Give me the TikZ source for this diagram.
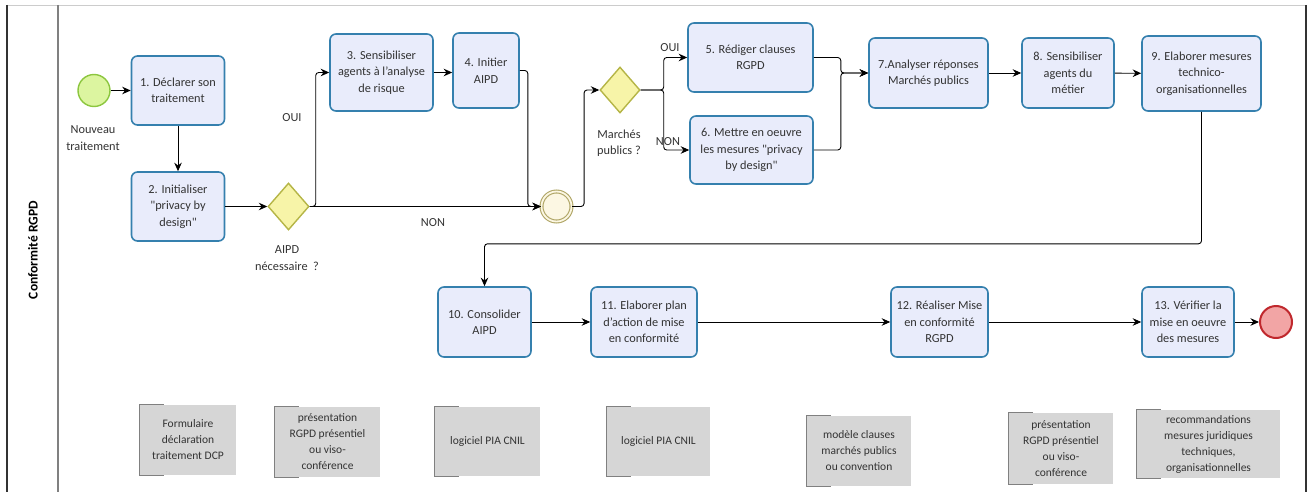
\documentclass[tikz,border=0pt]{standalone}
\usepackage{fontspec}
\setmainfont{Carlito}
\usetikzlibrary{arrows.meta,shapes.geometric}
\definecolor{taskfill}{HTML}{E9ECFB}
\definecolor{taskline}{HTML}{3580AE}
\definecolor{gatefill}{HTML}{F7F4A8}
\definecolor{gateline}{HTML}{B5B546}
\definecolor{startfill}{HTML}{DCF5A0}
\definecolor{startline}{HTML}{8CC63F}
\definecolor{endfill}{HTML}{F2A5A5}
\definecolor{endline}{HTML}{C0282D}
\definecolor{evfill}{HTML}{FCF7E3}
\definecolor{evline}{HTML}{B0A667}
\definecolor{notefill}{HTML}{D6D6D6}
\definecolor{inkgray}{HTML}{333333}

\begin{document}
\begin{tikzpicture}[x=1pt,y=-1pt,
  every node/.style={font=\fontsize{12.3}{16.5}\selectfont, text=inkgray, align=center},
  task/.style={draw=taskline, fill=taskfill, line width=1.6pt, rounded corners=6pt, inner sep=2pt},
  gate/.style={diamond, draw=gateline, fill=gatefill, line width=1.4pt, inner sep=0pt},
  startev/.style={circle, draw=startline, fill=startfill, line width=1.4pt, minimum size=32pt, inner sep=0pt},
  endev/.style={circle, draw=endline, fill=endfill, line width=2pt, minimum size=32pt, inner sep=0pt},
  midev/.style={circle, draw=evline, fill=evfill, line width=1.1pt, double=evfill, double distance=1.8pt, minimum size=30pt, inner sep=0pt},
  note/.style={fill=notefill, inner sep=1pt, font=\fontsize{11.5}{16}\selectfont},
  bracket/.style={draw=gray, line width=0.9pt},
  flow/.style={draw=black, line width=0.9pt, rounded corners=3pt, -{Stealth[length=8.5pt,width=7.5pt]}}]
\useasboundingbox (0,0) rectangle (1314,492);
\draw[gray!40, line width=0.8pt] (7,5) -- (1306,5);
\draw[inkgray, line width=1.2pt] (7,5) -- (7,492);
\draw[gray, line width=1.8pt] (58,5) -- (58,492);
\draw[inkgray, line width=1.2pt] (1306,5) -- (1306,492);
\node[rotate=90, font=\bfseries\fontsize{13.5}{15}\selectfont, text=black] (lane) at (33,250) {Conformité RGPD};

\node[startev] (start) at (94,90.5) {};
\node (startlbl) at (93,138) {Nouveau\\traitement};
\node[task, minimum width=93, minimum height=69] (t1) at (178,90.5) {1. Déclarer son\\traitement};
\node[task, minimum width=93, minimum height=69] (t2) at (178,206.5) {2. Initialiser\\\textquotedbl privacy by\\design\textquotedbl};
\node[gate, minimum width=41, minimum height=47] (g1) at (288.5,206.5) {};
\node (g1lbl) at (287,258) {AIPD\\nécessaire~~?};
\node (oui1) at (292,118) {OUI};
\node (non1) at (433,223) {NON};
\node[task, minimum width=103, minimum height=77] (t3) at (381.5,72.5) {3. Sensibiliser\\agents à l'analyse\\de risque};
\node[task, minimum width=66, minimum height=75] (t4) at (486,70.5) {4. Initier\\AIPD};
\node[midev] (ev) at (556.5,206.5) {};
\node[gate, minimum width=40, minimum height=46] (g2) at (620,90) {};
\node (g2lbl) at (619,143) {Marchés\\publics ?};
\node (oui2) at (670,48) {OUI};
\node (non2) at (668,142) {NON};
\node[task, minimum width=125, minimum height=69] (t5) at (750.5,57.5) {5. Rédiger clauses\\RGPD};
\node[task, minimum width=123, minimum height=68] (t6) at (751.5,150) {6. Mettre en oeuvre\\les mesures \textquotedbl privacy\\by design\textquotedbl};
\node[task, minimum width=119, minimum height=70] (t7) at (928.5,73) {7.Analyser réponses\\Marchés publics};
\node[task, minimum width=92, minimum height=70] (t8) at (1068,73) {8. Sensibiliser\\agents du\\métier};
\node[task, minimum width=119, minimum height=75] (t9) at (1201.5,73.5) {9. Elaborer mesures\\technico-\\organisationnelles};
\node[task, minimum width=93, minimum height=70] (t10) at (484.5,322) {10. Consolider\\AIPD};
\node[task, minimum width=106, minimum height=70] (t11) at (644,322) {11. Elaborer plan\\d'action de mise\\en conformité};
\node[task, minimum width=97, minimum height=70] (t12) at (939.5,322) {12. Réaliser Mise\\en conformité\\RGPD};
\node[task, minimum width=92, minimum height=70] (t13) at (1188,322) {13. Vérifier la\\mise en oeuvre\\des mesures};
\node[endev] (stop) at (1276,322) {};

\draw[flow] (start) -- (t1);
\draw[flow] (t1) -- (t2);
\draw[flow] (t2) -- (g1);
\draw[flow] (g1.east) -- ++(6,0) |- (t3.west);
\draw[flow] (g1.east) -- (ev.west);
\draw[flow] (t3) -- (t4.west |- t3.east);
\draw[flow] (t4.east) -- ++(8,0) |- (ev.west);
\draw[flow] (ev.east) -- ++(12,0) |- (g2.west);
\draw[flow] (g2.east) -- ++(23,0) |- (t5.west);
\draw[flow] (g2.east) -- ++(23,0) |- (t6.west);
\draw[flow] (t5.east) -- ++(27,0) |- (t7.west);
\draw[flow] (t6.east) -- ++(27,0) |- (t7.west);
\draw[flow] (t7) -- (t8);
\draw[flow] (t8) -- (t9);
\draw[flow] (t9.south) -- ++(0,132) -| (t10.north);
\draw[flow] (t10) -- (t11);
\draw[flow] (t11) -- (t12);
\draw[flow] (t12) -- (t13);
\draw[flow] (t13) -- (stop);

\node[note, minimum width=96, minimum height=70] (n1) at (188,440) {Formulaire\\déclaration\\traitement DCP};
\node[note, minimum width=105, minimum height=70] (n2) at (327.5,442) {présentation\\RGPD présentiel\\ou viso-\\conférence};
\node[note, minimum width=105, minimum height=69] (n3) at (487.5,441.5) {logiciel PIA CNIL};
\node[note, minimum width=103, minimum height=69] (n4) at (658.5,441.5) {logiciel PIA CNIL};
\node[note, minimum width=104, minimum height=70] (n5) at (859,451) {modèle clauses\\marchés publics\\ou convention};
\node[note, minimum width=104, minimum height=71] (n6) at (1061,448.5) {présentation\\RGPD présentiel\\ou viso-\\conférence};
\node[note, minimum width=143, minimum height=68] (n7) at (1208.5,444) {recommandations\\mesures juridiques\\techniques,\\organisationnelles};
\foreach \n in {n1,n2,n3,n4,n5,n6,n7}
  \draw[bracket] ([xshift=24]\n.north west) -- (\n.north west) -- (\n.south west) -- ([xshift=24]\n.south west);
\end{tikzpicture}
\end{document}
